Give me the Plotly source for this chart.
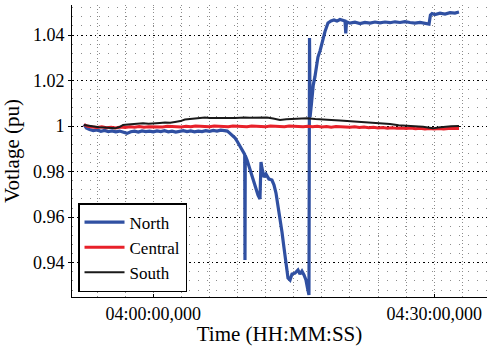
import pandas as pd
import plotly.graph_objects as go

# ---- data (time in minutes relative to 04:00:00, voltage in pu) ----
north_t = [-7.40, -7.15, -6.80, -6.40, -6.00, -5.60, -5.20, -4.80, -4.40, -4.00,
           -3.60, -3.20, -2.80, -2.40, -2.00, -1.60, -1.20, -0.80, -0.40, 0.00,
           0.40, 0.80, 1.20, 1.60, 2.00, 2.40, 2.80, 3.20, 3.60, 4.00,
           4.40, 4.80, 5.20, 5.60, 6.00, 6.40, 6.80, 7.20, 7.60, 7.90,
           8.19, 8.50, 8.74, 9.00, 9.26, 9.58, 9.76, 9.79, 9.82, 10.01,
           10.33, 10.65, 10.97, 11.18, 11.39, 11.50, 11.60, 11.82, 12.03, 12.35,
           12.67, 12.89, 13.10, 13.32, 13.53, 13.74, 13.96, 14.17, 14.38, 14.60,
           14.81, 15.13, 15.45, 15.66, 15.87, 16.09, 16.30, 16.46, 16.62, 16.68,
           16.74, 16.89, 17.08, 17.26, 17.58, 17.80, 18.12, 18.33, 18.65, 18.97,
           19.29, 19.61, 19.93, 20.25, 20.47, 20.55, 20.63, 21.00, 21.53, 22.07,
           22.60, 23.14, 23.67, 24.20, 24.74, 25.27, 25.81, 26.34, 26.87, 27.41,
           27.94, 28.48, 29.01, 29.44, 29.59, 29.76, 30.08, 30.61, 31.15, 31.68,
           32.21, 32.64]
north_v = [1.0008, 0.9992, 0.9985, 0.9980, 0.9983, 0.9977, 0.9981, 0.9976, 0.9979, 0.9975,
           0.9978, 0.9972, 0.9968, 0.9975, 0.9978, 0.9974, 0.9979, 0.9976, 0.9978, 0.9975,
           0.9979, 0.9976, 0.9980, 0.9975, 0.9978, 0.9974, 0.9977, 0.9980, 0.9976, 0.9979,
           0.9975, 0.9978, 0.9976, 0.9980, 0.9977, 0.9981, 0.9978, 0.9982, 0.9980, 0.9978,
           0.9968, 0.9958, 0.9947, 0.9930, 0.9912, 0.9886, 0.9875, 0.9412, 0.9870, 0.9851,
           0.9807, 0.9763, 0.9724, 0.9697, 0.9680, 0.9842, 0.9816, 0.9776, 0.9789, 0.9767,
           0.9763, 0.9741, 0.9706, 0.9653, 0.9596, 0.9535, 0.9464, 0.9390, 0.9333, 0.9324,
           0.9350, 0.9354, 0.9368, 0.9350, 0.9363, 0.9346, 0.9324, 0.9289, 0.9258, 1.0387,
           1.0040, 1.0100, 1.0180, 1.0217, 1.0303, 1.0330, 1.0391, 1.0415, 1.0453, 1.0462,
           1.0466, 1.0461, 1.0468, 1.0465, 1.0462, 1.0407, 1.0458, 1.0452, 1.0456, 1.0450,
           1.0455, 1.0452, 1.0457, 1.0453, 1.0457, 1.0454, 1.0458, 1.0455, 1.0459, 1.0455,
           1.0452, 1.0455, 1.0451, 1.0448, 1.0488, 1.0494, 1.0490, 1.0496, 1.0492, 1.0498,
           1.0496, 1.0501]

central_t = [-7.40, -7.00, -6.50, -6.00, -5.50, -5.00, -4.50, -4.00, -3.50, -3.00,
             -2.50, -2.00, -1.50, -1.00, -0.50, 0.00, 0.50, 1.00, 1.50, 2.00,
             2.50, 3.00, 3.50, 4.00, 4.50, 5.00, 5.50, 6.00, 6.50, 7.00,
             7.50, 8.00, 8.50, 9.00, 9.50, 10.00, 10.50, 11.00, 11.50, 12.00,
             12.50, 13.00, 13.50, 14.00, 14.50, 15.00, 15.50, 16.00, 16.50, 17.00,
             17.50, 18.00, 18.50, 19.00, 19.50, 20.00, 20.50, 21.00, 21.50, 22.00,
             22.50, 23.00, 23.50, 24.00, 24.50, 25.00, 25.50, 26.00, 26.50, 27.00,
             27.50, 28.00, 28.50, 29.00, 29.50, 30.00, 30.50, 31.00, 31.50, 32.00,
             32.64]
central_v = [1.0006, 0.9999, 0.9996, 0.9994, 0.9997, 0.9993, 0.9995, 0.9992, 0.9996, 0.9994,
             0.9997, 0.9995, 0.9998, 0.9995, 0.9997, 0.9996, 0.9998, 0.9996, 0.9999, 0.9997,
             0.9998, 0.9996, 0.9999, 0.9997, 1.0000, 0.9998, 0.9999, 0.9997, 1.0000, 0.9998,
             0.9999, 0.9997, 1.0000, 0.9998, 0.9999, 0.9997, 1.0000, 0.9998, 0.9999, 0.9997,
             1.0000, 0.9998, 0.9999, 0.9997, 1.0000, 0.9998, 0.9999, 0.9997, 0.9999, 0.9997,
             0.9999, 0.9996, 0.9998, 0.9995, 0.9998, 0.9996, 0.9997, 0.9995, 0.9997, 0.9994,
             0.9996, 0.9993, 0.9995, 0.9992, 0.9994, 0.9991, 0.9993, 0.9990, 0.9992, 0.9989,
             0.9991, 0.9988, 0.9990, 0.9987, 0.9989, 0.9987, 0.9989, 0.9987, 0.9989, 0.9988,
             0.9989]

south_t = [-7.40, -6.90, -6.42, -5.80, -5.16, -4.60, -4.09, -3.60, -3.23, -2.70,
           -2.17, -1.60, -1.10, -0.50, 0.18, 0.70, 1.25, 1.80, 2.31, 2.90,
           3.38, 3.90, 4.45, 5.00, 5.52, 6.00, 6.58, 7.10, 7.65, 8.20,
           8.72, 9.30, 9.79, 10.30, 10.86, 11.50, 12.14, 12.80, 13.53, 14.20,
           14.92, 15.70, 16.41, 17.30, 18.12, 19.00, 19.93, 20.80, 21.75, 22.60,
           23.45, 24.30, 25.27, 26.20, 27.08, 27.90, 28.79, 29.30, 29.86, 30.40,
           30.93, 31.80, 32.64]
south_v = [1.0005, 1.0001, 0.9997, 0.9995, 0.9994, 0.9991, 0.9990, 0.9996, 1.0005, 1.0007,
           1.0009, 1.0011, 1.0012, 1.0010, 1.0011, 1.0014, 1.0016, 1.0015, 1.0018, 1.0022,
           1.0029, 1.0031, 1.0033, 1.0035, 1.0038, 1.0036, 1.0035, 1.0034, 1.0033, 1.0035,
           1.0035, 1.0037, 1.0038, 1.0037, 1.0038, 1.0039, 1.0038, 1.0033, 1.0027, 1.0030,
           1.0032, 1.0033, 1.0034, 1.0031, 1.0030, 1.0027, 1.0024, 1.0022, 1.0019, 1.0017,
           1.0015, 1.0012, 1.0009, 1.0004, 1.0000, 0.9999, 0.9997, 0.9993, 0.9990, 0.9994,
           0.9997, 0.9999, 1.0000]

base = pd.Timestamp("2000-01-01 04:00:00")


def to_time(mins):
    return [base + pd.Timedelta(minutes=m) for m in mins]


FONT = "Liberation Serif"
fig = go.Figure()
fig.add_trace(go.Scatter(x=to_time(north_t), y=north_v, mode="lines", name="North",
                         line=dict(color="#3050A2", width=3.2)))
fig.add_trace(go.Scatter(x=to_time(central_t), y=central_v, mode="lines", name="Central",
                         line=dict(color="#E8212A", width=3)))
fig.add_trace(go.Scatter(x=to_time(south_t), y=south_v, mode="lines", name="South",
                         line=dict(color="#1A1A1A", width=2)))

x_range = [base + pd.Timedelta(minutes=-8.68), base + pd.Timedelta(minutes=35.63)]

fig.update_layout(
    width=487, height=346,
    margin=dict(l=72, r=0, t=5, b=49),
    paper_bgcolor="white", plot_bgcolor="white",
    font=dict(family=FONT, size=18, color="black"),
    showlegend=True,
    legend=dict(x=0.0145, y=0.017, xanchor="left", yanchor="bottom",
                bgcolor="white", bordercolor="black", borderwidth=1.5,
                font=dict(family=FONT, size=17, color="black"),
                tracegroupgap=0, itemwidth=40),
    xaxis=dict(
        type="date", range=x_range,
        tick0=base, dtick=1800000, tickformat="%H:%M:%S,%L",
        ticks="inside", ticklen=3, tickcolor="black",
        showline=True, linecolor="black", linewidth=1, mirror=False,
        showgrid=True, gridcolor="#8c8c8c", griddash="1px,2.5px", gridwidth=1,
        minor=dict(dtick=180000, tick0=base, showgrid=True, gridcolor="#8c8c8c",
                   griddash="1px,2.5px", gridwidth=1, ticks=""),
        title=dict(text="Time (HH:MM:SS)", font=dict(family=FONT, size=21), standoff=6),
        tickfont=dict(family=FONT, size=18, color="black"),
        zeroline=False,
    ),
    yaxis=dict(
        range=[0.92493, 1.05318],
        tick0=0.94, dtick=0.02,
        ticks="outside", ticklen=3, tickcolor="black",
        showline=True, linecolor="black", linewidth=1,
        showgrid=True, gridcolor="black", griddash="1.5px,3px", gridwidth=1.3,
        minor=dict(dtick=0.004, tick0=0.94, showgrid=True, gridcolor="#8c8c8c",
                   griddash="1px,8px", gridwidth=1, ticks=""),
        title=dict(text="Votlage (pu)", font=dict(family=FONT, size=21)),
        tickfont=dict(family=FONT, size=18, color="black"),
        zeroline=False,
    ),
)

fig.write_html("out.html")
